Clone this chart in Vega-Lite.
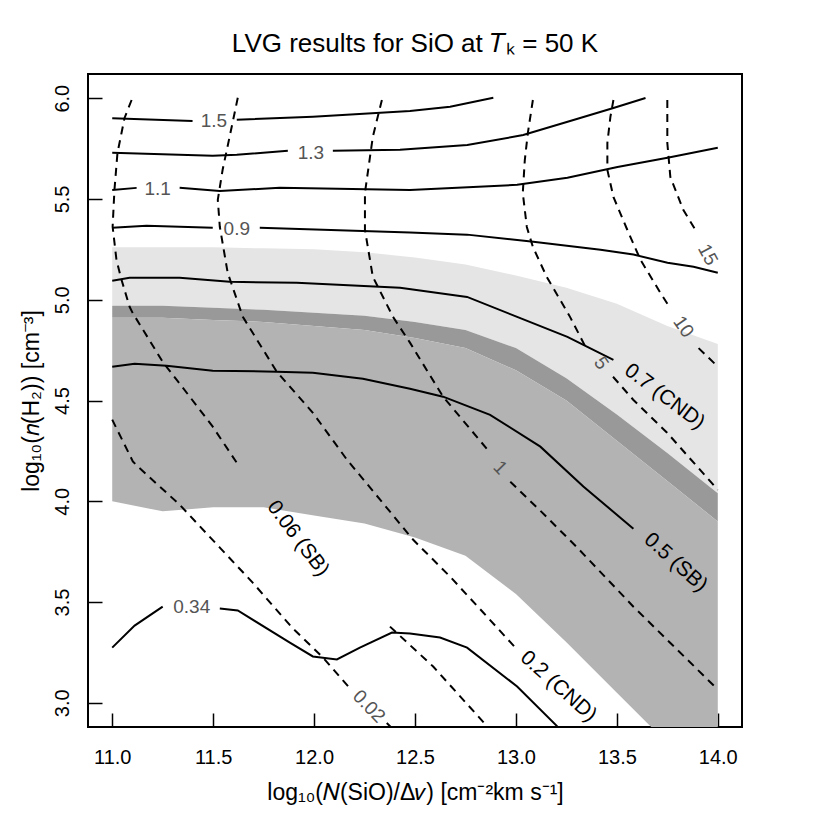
{
  "$schema": "https://vega.github.io/schema/vega-lite/v6.json",
  "width": 654,
  "height": 653,
  "autosize": {"type": "none"},
  "padding": {"left": 88, "top": 74, "right": 88, "bottom": 103},
  "background": "white",
  "config": {
    "font": "Liberation Sans",
    "view": {"stroke": "black", "strokeWidth": 2},
    "axis": {"grid": false, "domain": false, "labelFont": "Liberation Sans", "titleFont": "Liberation Sans", "labelFontSize": 20, "titleFontSize": 23, "titleFontWeight": "normal", "labelColor": "black", "titleColor": "black", "tickColor": "black", "tickWidth": 1.5}
  },
  "title": {"text": "LVG results for SiO at 𝑇ₖ = 50 K", "fontSize": 26, "fontWeight": "normal", "font": "Liberation Sans", "anchor": "middle", "offset": 17, "color": "black"},
  "datasets": {
    "bands": [
      {"x": 11.0, "lo": 4.00, "med": 4.91, "dark": 4.97, "light": 5.26},
      {"x": 11.25, "lo": 3.95, "med": 4.91, "dark": 4.97, "light": 5.26},
      {"x": 11.5, "lo": 3.97, "med": 4.90, "dark": 4.96, "light": 5.26},
      {"x": 11.75, "lo": 3.97, "med": 4.89, "dark": 4.95, "light": 5.255},
      {"x": 12.0, "lo": 3.93, "med": 4.87, "dark": 4.935, "light": 5.25},
      {"x": 12.25, "lo": 3.89, "med": 4.85, "dark": 4.92, "light": 5.235},
      {"x": 12.5, "lo": 3.82, "med": 4.81, "dark": 4.89, "light": 5.21},
      {"x": 12.75, "lo": 3.73, "med": 4.76, "dark": 4.85, "light": 5.175},
      {"x": 13.0, "lo": 3.54, "med": 4.65, "dark": 4.76, "light": 5.12},
      {"x": 13.25, "lo": 3.30, "med": 4.50, "dark": 4.61, "light": 5.06},
      {"x": 13.5, "lo": 3.05, "med": 4.30, "dark": 4.43, "light": 4.98},
      {"x": 13.75, "lo": 2.80, "med": 4.10, "dark": 4.24, "light": 4.87},
      {"x": 14.0, "lo": 2.50, "med": 3.90, "dark": 4.04, "light": 4.78}
    ],
    "lines": [
      {"id": "1.5a", "t": "s", "i": 0, "x": 11.0, "y": 5.90},
      {"id": "1.5a", "t": "s", "i": 1, "x": 11.398, "y": 5.887},
      {"id": "1.5b", "t": "s", "i": 0, "x": 11.617, "y": 5.893},
      {"id": "1.5b", "t": "s", "i": 1, "x": 11.994, "y": 5.908},
      {"id": "1.5b", "t": "s", "i": 2, "x": 12.475, "y": 5.937},
      {"id": "1.5b", "t": "s", "i": 3, "x": 12.674, "y": 5.957},
      {"id": "1.5b", "t": "s", "i": 4, "x": 12.888, "y": 6.002},
      {"id": "1.3a", "t": "s", "i": 0, "x": 11.0, "y": 5.729},
      {"id": "1.3a", "t": "s", "i": 1, "x": 11.498, "y": 5.714},
      {"id": "1.3a", "t": "s", "i": 2, "x": 11.617, "y": 5.719},
      {"id": "1.3a", "t": "s", "i": 3, "x": 11.870, "y": 5.739},
      {"id": "1.3b", "t": "s", "i": 0, "x": 12.093, "y": 5.739},
      {"id": "1.3b", "t": "s", "i": 1, "x": 12.426, "y": 5.744},
      {"id": "1.3b", "t": "s", "i": 2, "x": 12.759, "y": 5.768},
      {"id": "1.3b", "t": "s", "i": 3, "x": 13.036, "y": 5.817},
      {"id": "1.3b", "t": "s", "i": 4, "x": 13.285, "y": 5.892},
      {"id": "1.3b", "t": "s", "i": 5, "x": 13.483, "y": 5.951},
      {"id": "1.3b", "t": "s", "i": 6, "x": 13.642, "y": 6.001},
      {"id": "1.1a", "t": "s", "i": 0, "x": 11.0, "y": 5.545},
      {"id": "1.1a", "t": "s", "i": 1, "x": 11.121, "y": 5.555},
      {"id": "1.1b", "t": "s", "i": 0, "x": 11.334, "y": 5.555},
      {"id": "1.1b", "t": "s", "i": 1, "x": 11.533, "y": 5.540},
      {"id": "1.1b", "t": "s", "i": 2, "x": 11.830, "y": 5.555},
      {"id": "1.1b", "t": "s", "i": 3, "x": 12.475, "y": 5.545},
      {"id": "1.1b", "t": "s", "i": 4, "x": 13.006, "y": 5.570},
      {"id": "1.1b", "t": "s", "i": 5, "x": 13.255, "y": 5.605},
      {"id": "1.1b", "t": "s", "i": 6, "x": 13.503, "y": 5.659},
      {"id": "1.1b", "t": "s", "i": 7, "x": 13.751, "y": 5.704},
      {"id": "1.1b", "t": "s", "i": 8, "x": 14.0, "y": 5.754},
      {"id": "0.9a", "t": "s", "i": 0, "x": 11.0, "y": 5.357},
      {"id": "0.9a", "t": "s", "i": 1, "x": 11.170, "y": 5.367},
      {"id": "0.9a", "t": "s", "i": 2, "x": 11.498, "y": 5.357},
      {"id": "0.9b", "t": "s", "i": 0, "x": 11.731, "y": 5.357},
      {"id": "0.9b", "t": "s", "i": 1, "x": 12.475, "y": 5.333},
      {"id": "0.9b", "t": "s", "i": 2, "x": 12.758, "y": 5.323},
      {"id": "0.9b", "t": "s", "i": 3, "x": 13.086, "y": 5.288},
      {"id": "0.9b", "t": "s", "i": 4, "x": 13.419, "y": 5.248},
      {"id": "0.9b", "t": "s", "i": 5, "x": 13.582, "y": 5.224},
      {"id": "0.9b", "t": "s", "i": 6, "x": 13.751, "y": 5.184},
      {"id": "0.9b", "t": "s", "i": 7, "x": 13.880, "y": 5.164},
      {"id": "0.9b", "t": "s", "i": 8, "x": 14.0, "y": 5.134},
      {"id": "0.7", "t": "s", "i": 0, "x": 11.0, "y": 5.094},
      {"id": "0.7", "t": "s", "i": 1, "x": 11.086, "y": 5.109},
      {"id": "0.7", "t": "s", "i": 2, "x": 11.334, "y": 5.109},
      {"id": "0.7", "t": "s", "i": 3, "x": 11.582, "y": 5.089},
      {"id": "0.7", "t": "s", "i": 4, "x": 11.914, "y": 5.084},
      {"id": "0.7", "t": "s", "i": 5, "x": 12.426, "y": 5.059},
      {"id": "0.7", "t": "s", "i": 6, "x": 12.758, "y": 5.014},
      {"id": "0.7", "t": "s", "i": 7, "x": 13.006, "y": 4.915},
      {"id": "0.7", "t": "s", "i": 8, "x": 13.255, "y": 4.816},
      {"id": "0.7", "t": "s", "i": 9, "x": 13.483, "y": 4.702},
      {"id": "0.5", "t": "s", "i": 0, "x": 11.0, "y": 4.667},
      {"id": "0.5", "t": "s", "i": 1, "x": 11.111, "y": 4.682},
      {"id": "0.5", "t": "s", "i": 2, "x": 11.269, "y": 4.672},
      {"id": "0.5", "t": "s", "i": 3, "x": 11.498, "y": 4.648},
      {"id": "0.5", "t": "s", "i": 4, "x": 11.815, "y": 4.643},
      {"id": "0.5", "t": "s", "i": 5, "x": 11.994, "y": 4.638},
      {"id": "0.5", "t": "s", "i": 6, "x": 12.242, "y": 4.608},
      {"id": "0.5", "t": "s", "i": 7, "x": 12.475, "y": 4.558},
      {"id": "0.5", "t": "s", "i": 8, "x": 12.639, "y": 4.519},
      {"id": "0.5", "t": "s", "i": 9, "x": 12.872, "y": 4.429},
      {"id": "0.5", "t": "s", "i": 10, "x": 13.121, "y": 4.271},
      {"id": "0.5", "t": "s", "i": 11, "x": 13.334, "y": 4.073},
      {"id": "0.5", "t": "s", "i": 12, "x": 13.582, "y": 3.864},
      {"id": "0.34a", "t": "s", "i": 0, "x": 11.0, "y": 3.274},
      {"id": "0.34a", "t": "s", "i": 1, "x": 11.111, "y": 3.383},
      {"id": "0.34a", "t": "s", "i": 2, "x": 11.250, "y": 3.477},
      {"id": "0.34b", "t": "s", "i": 0, "x": 11.533, "y": 3.468},
      {"id": "0.34b", "t": "s", "i": 1, "x": 11.622, "y": 3.458},
      {"id": "0.34b", "t": "s", "i": 2, "x": 11.880, "y": 3.299},
      {"id": "0.34b", "t": "s", "i": 3, "x": 11.994, "y": 3.230},
      {"id": "0.34b", "t": "s", "i": 4, "x": 12.113, "y": 3.215},
      {"id": "0.34b", "t": "s", "i": 5, "x": 12.227, "y": 3.274},
      {"id": "0.34b", "t": "s", "i": 6, "x": 12.386, "y": 3.349},
      {"id": "0.34b", "t": "s", "i": 7, "x": 12.475, "y": 3.344},
      {"id": "0.34b", "t": "s", "i": 8, "x": 12.624, "y": 3.324},
      {"id": "0.34b", "t": "s", "i": 9, "x": 12.758, "y": 3.274},
      {"id": "0.34b", "t": "s", "i": 10, "x": 13.006, "y": 3.081},
      {"id": "0.34b", "t": "s", "i": 11, "x": 13.205, "y": 2.883},
      {"id": "A", "t": "d", "i": 0, "x": 11.0, "y": 4.405},
      {"id": "A", "t": "d", "i": 1, "x": 11.102, "y": 4.198},
      {"id": "A", "t": "d", "i": 2, "x": 11.126, "y": 4.173},
      {"id": "A", "t": "d", "i": 3, "x": 11.334, "y": 3.983},
      {"id": "A", "t": "d", "i": 4, "x": 11.533, "y": 3.770},
      {"id": "A", "t": "d", "i": 5, "x": 11.697, "y": 3.595},
      {"id": "A", "t": "d", "i": 6, "x": 11.895, "y": 3.369},
      {"id": "A", "t": "d", "i": 7, "x": 12.044, "y": 3.225},
      {"id": "A", "t": "d", "i": 8, "x": 12.178, "y": 3.071},
      {"id": "A2", "t": "d", "i": 0, "x": 12.36, "y": 2.90},
      {"id": "A2", "t": "d", "i": 1, "x": 12.40, "y": 2.86},
      {"id": "B", "t": "d", "i": 0, "x": 11.096, "y": 5.991},
      {"id": "B", "t": "d", "i": 1, "x": 11.061, "y": 5.902},
      {"id": "B", "t": "d", "i": 2, "x": 11.026, "y": 5.728},
      {"id": "B", "t": "d", "i": 3, "x": 11.011, "y": 5.545},
      {"id": "B", "t": "d", "i": 4, "x": 11.002, "y": 5.362},
      {"id": "B", "t": "d", "i": 5, "x": 11.021, "y": 5.198},
      {"id": "B", "t": "d", "i": 6, "x": 11.046, "y": 5.099},
      {"id": "B", "t": "d", "i": 7, "x": 11.086, "y": 4.965},
      {"id": "B", "t": "d", "i": 8, "x": 11.101, "y": 4.935},
      {"id": "B", "t": "d", "i": 9, "x": 11.250, "y": 4.692},
      {"id": "B", "t": "d", "i": 10, "x": 11.384, "y": 4.519},
      {"id": "B", "t": "d", "i": 11, "x": 11.498, "y": 4.370},
      {"id": "B", "t": "d", "i": 12, "x": 11.617, "y": 4.191},
      {"id": "B2", "t": "d", "i": 0, "x": 12.376, "y": 3.378},
      {"id": "B2", "t": "d", "i": 1, "x": 12.590, "y": 3.180},
      {"id": "B2", "t": "d", "i": 2, "x": 12.858, "y": 2.883},
      {"id": "C", "t": "d", "i": 0, "x": 11.622, "y": 6.002},
      {"id": "C", "t": "d", "i": 1, "x": 11.592, "y": 5.858},
      {"id": "C", "t": "d", "i": 2, "x": 11.547, "y": 5.645},
      {"id": "C", "t": "d", "i": 3, "x": 11.523, "y": 5.496},
      {"id": "C", "t": "d", "i": 4, "x": 11.533, "y": 5.362},
      {"id": "C", "t": "d", "i": 5, "x": 11.572, "y": 5.134},
      {"id": "C", "t": "d", "i": 6, "x": 11.647, "y": 4.915},
      {"id": "C", "t": "d", "i": 7, "x": 11.815, "y": 4.643},
      {"id": "C", "t": "d", "i": 8, "x": 11.994, "y": 4.439},
      {"id": "C", "t": "d", "i": 9, "x": 12.163, "y": 4.206},
      {"id": "C", "t": "d", "i": 10, "x": 12.327, "y": 4.008},
      {"id": "C", "t": "d", "i": 11, "x": 12.490, "y": 3.810},
      {"id": "C", "t": "d", "i": 12, "x": 12.674, "y": 3.626},
      {"id": "C", "t": "d", "i": 13, "x": 12.838, "y": 3.448},
      {"id": "C", "t": "d", "i": 14, "x": 13.006, "y": 3.264},
      {"id": "D", "t": "d", "i": 0, "x": 12.336, "y": 5.991},
      {"id": "D", "t": "d", "i": 1, "x": 12.291, "y": 5.808},
      {"id": "D", "t": "d", "i": 2, "x": 12.252, "y": 5.530},
      {"id": "D", "t": "d", "i": 3, "x": 12.252, "y": 5.347},
      {"id": "D", "t": "d", "i": 4, "x": 12.291, "y": 5.114},
      {"id": "D", "t": "d", "i": 5, "x": 12.391, "y": 4.915},
      {"id": "D", "t": "d", "i": 6, "x": 12.475, "y": 4.787},
      {"id": "D", "t": "d", "i": 7, "x": 12.639, "y": 4.519},
      {"id": "D", "t": "d", "i": 8, "x": 12.872, "y": 4.241},
      {"id": "D2", "t": "d", "i": 0, "x": 12.972, "y": 4.097},
      {"id": "D2", "t": "d", "i": 1, "x": 13.121, "y": 3.953},
      {"id": "D2", "t": "d", "i": 2, "x": 13.304, "y": 3.770},
      {"id": "D2", "t": "d", "i": 3, "x": 13.582, "y": 3.477},
      {"id": "D2", "t": "d", "i": 4, "x": 14.0, "y": 3.066},
      {"id": "E", "t": "d", "i": 0, "x": 13.084, "y": 5.991},
      {"id": "E", "t": "d", "i": 1, "x": 13.059, "y": 5.827},
      {"id": "E", "t": "d", "i": 2, "x": 13.044, "y": 5.693},
      {"id": "E", "t": "d", "i": 3, "x": 13.034, "y": 5.530},
      {"id": "E", "t": "d", "i": 4, "x": 13.054, "y": 5.361},
      {"id": "E", "t": "d", "i": 5, "x": 13.084, "y": 5.262},
      {"id": "E", "t": "d", "i": 6, "x": 13.153, "y": 5.113},
      {"id": "E", "t": "d", "i": 7, "x": 13.268, "y": 4.915},
      {"id": "E", "t": "d", "i": 8, "x": 13.352, "y": 4.752},
      {"id": "E2", "t": "d", "i": 0, "x": 13.481, "y": 4.618},
      {"id": "E2", "t": "d", "i": 1, "x": 13.581, "y": 4.504},
      {"id": "E2", "t": "d", "i": 2, "x": 13.749, "y": 4.340},
      {"id": "E2", "t": "d", "i": 3, "x": 14.0, "y": 4.057},
      {"id": "F", "t": "d", "i": 0, "x": 13.483, "y": 5.991},
      {"id": "F", "t": "d", "i": 1, "x": 13.468, "y": 5.907},
      {"id": "F", "t": "d", "i": 2, "x": 13.453, "y": 5.778},
      {"id": "F", "t": "d", "i": 3, "x": 13.453, "y": 5.644},
      {"id": "F", "t": "d", "i": 4, "x": 13.483, "y": 5.510},
      {"id": "F", "t": "d", "i": 5, "x": 13.552, "y": 5.346},
      {"id": "F", "t": "d", "i": 6, "x": 13.617, "y": 5.198},
      {"id": "F", "t": "d", "i": 7, "x": 13.716, "y": 5.034},
      {"id": "F", "t": "d", "i": 8, "x": 13.760, "y": 4.965},
      {"id": "F2", "t": "d", "i": 0, "x": 13.905, "y": 4.760},
      {"id": "F2", "t": "d", "i": 1, "x": 14.0, "y": 4.668},
      {"id": "G", "t": "d", "i": 0, "x": 13.750, "y": 5.991},
      {"id": "G", "t": "d", "i": 1, "x": 13.750, "y": 5.778},
      {"id": "G", "t": "d", "i": 2, "x": 13.765, "y": 5.609},
      {"id": "G", "t": "d", "i": 3, "x": 13.829, "y": 5.446},
      {"id": "G", "t": "d", "i": 4, "x": 13.890, "y": 5.345}
    ],
    "labels": [
      {"text": "1.5", "x": 11.504, "y": 5.885},
      {"text": "1.3", "x": 11.984, "y": 5.729},
      {"text": "1.1", "x": 11.225, "y": 5.547},
      {"text": "0.9", "x": 11.617, "y": 5.349},
      {"text": "0.34", "x": 11.394, "y": 3.474},
      {"text": "0.02", "x": 12.272, "y": 2.982},
      {"text": "1", "x": 12.922, "y": 4.167},
      {"text": "5", "x": 13.423, "y": 4.686},
      {"text": "10", "x": 13.830, "y": 4.866},
      {"text": "15", "x": 13.950, "y": 5.223},
      {"text": "0.06 (SB)", "x": 11.920, "y": 3.815},
      {"text": "0.2 (CND)", "x": 13.210, "y": 3.081},
      {"text": "0.7 (CND)", "x": 13.736, "y": 4.519},
      {"text": "0.5 (SB)", "x": 13.791, "y": 3.696}
    ]
  },
  "encoding": {
    "x": {"type": "quantitative", "scale": {"domain": [10.88, 14.12], "nice": false, "zero": false},
      "axis": {"values": [11, 11.5, 12, 12.5, 13, 13.5, 14], "format": ".1f", "tickSize": -14, "labelPadding": 34, "title": "log₁₀(𝑁(SiO)/Δ𝑣) [cm⁻²km s⁻¹]", "titlePadding": 14}},
    "y": {"type": "quantitative", "scale": {"domain": [2.88, 6.12], "nice": false, "zero": false},
      "axis": {"values": [3, 3.5, 4, 4.5, 5, 5.5, 6], "format": ".1f", "tickSize": -14, "labelPadding": 30, "labelAngle": -90, "title": "log₁₀(𝑛(H₂)) [cm⁻³]", "titlePadding": 9}}
  },
  "layer": [
    {"data": {"name": "bands"}, "mark": {"type": "area", "color": "#e5e5e5", "clip": true},
      "encoding": {"x": {"field": "x"}, "y": {"field": "dark"}, "y2": {"field": "light"}}},
    {"data": {"name": "bands"}, "mark": {"type": "area", "color": "#999999", "clip": true},
      "encoding": {"x": {"field": "x"}, "y": {"field": "med"}, "y2": {"field": "dark"}}},
    {"data": {"name": "bands"}, "mark": {"type": "area", "color": "#b3b3b3", "clip": true},
      "encoding": {"x": {"field": "x"}, "y": {"field": "lo"}, "y2": {"field": "med"}}},
    {"data": {"name": "lines"}, "transform": [{"filter": "datum.t === 's'"}],
      "mark": {"type": "line", "color": "black", "strokeWidth": 2, "clip": true},
      "encoding": {"x": {"field": "x"}, "y": {"field": "y"}, "detail": {"field": "id"}, "order": {"field": "i"}}},
    {"data": {"name": "lines"}, "transform": [{"filter": "datum.t === 'd'"}],
      "mark": {"type": "line", "color": "black", "strokeWidth": 2, "strokeDash": [8, 6], "clip": true},
      "encoding": {"x": {"field": "x"}, "y": {"field": "y"}, "detail": {"field": "id"}, "order": {"field": "i"}}},
    {"data": {"name": "labels"}, "transform": [{"filter": "indexof(['1.5','1.3','1.1','0.9','0.34'], datum.text) >= 0"}],
      "mark": {"type": "text", "fontSize": 19, "color": "#555555", "baseline": "middle", "align": "center"},
      "encoding": {"x": {"field": "x"}, "y": {"field": "y"}, "text": {"field": "text"}}},
    {"data": {"name": "labels"}, "transform": [{"filter": "indexof(['0.02','1'], datum.text) >= 0"}],
      "mark": {"type": "text", "fontSize": 19, "color": "#555555", "baseline": "middle", "align": "center", "angle": 46},
      "encoding": {"x": {"field": "x"}, "y": {"field": "y"}, "text": {"field": "text"}}},
    {"data": {"name": "labels"}, "transform": [{"filter": "indexof(['5','10'], datum.text) >= 0"}],
      "mark": {"type": "text", "fontSize": 19, "color": "#555555", "baseline": "middle", "align": "center", "angle": 55},
      "encoding": {"x": {"field": "x"}, "y": {"field": "y"}, "text": {"field": "text"}}},
    {"data": {"name": "labels"}, "transform": [{"filter": "datum.text === '15'"}],
      "mark": {"type": "text", "fontSize": 19, "color": "#555555", "baseline": "middle", "align": "center", "angle": 62},
      "encoding": {"x": {"field": "x"}, "y": {"field": "y"}, "text": {"field": "text"}}},
    {"data": {"name": "labels"}, "transform": [{"filter": "datum.text === '0.06 (SB)'"}],
      "mark": {"type": "text", "fontSize": 21, "color": "black", "baseline": "middle", "align": "center", "angle": 53},
      "encoding": {"x": {"field": "x"}, "y": {"field": "y"}, "text": {"field": "text"}}},
    {"data": {"name": "labels"}, "transform": [{"filter": "indexof(['0.2 (CND)','0.5 (SB)'], datum.text) >= 0"}],
      "mark": {"type": "text", "fontSize": 21, "color": "black", "baseline": "middle", "align": "center", "angle": 42},
      "encoding": {"x": {"field": "x"}, "y": {"field": "y"}, "text": {"field": "text"}}},
    {"data": {"name": "labels"}, "transform": [{"filter": "datum.text === '0.7 (CND)'"}],
      "mark": {"type": "text", "fontSize": 21, "color": "black", "baseline": "middle", "align": "center", "angle": 37},
      "encoding": {"x": {"field": "x"}, "y": {"field": "y"}, "text": {"field": "text"}}}
  ]
}
